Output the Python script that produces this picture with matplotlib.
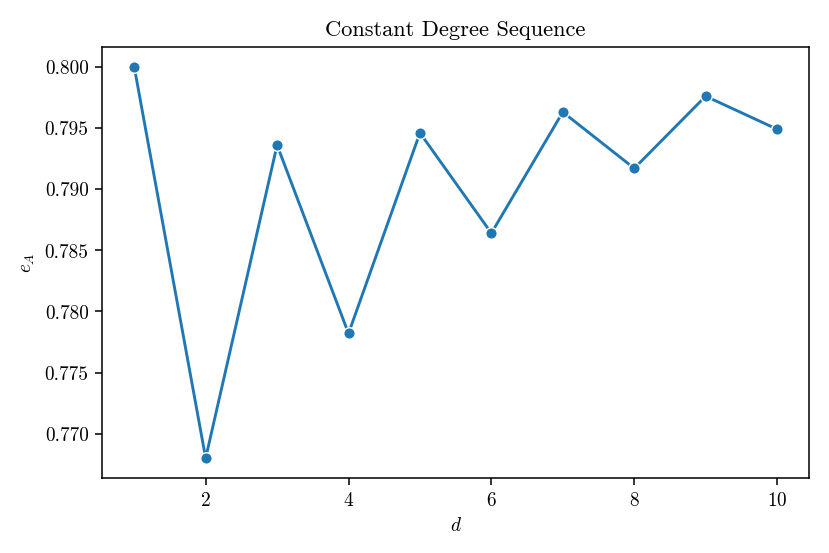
import matplotlib
matplotlib.use('Agg')
import matplotlib.pyplot as plt

plt.rcParams['font.family'] = 'serif'
plt.rcParams['font.serif'] = ['cmr10']
plt.rcParams['mathtext.fontset'] = 'cm'
plt.rcParams['axes.formatter.use_mathtext'] = True
plt.rcParams['axes.unicode_minus'] = False

# degree and measured e_A
d = [1, 2, 3, 4, 5, 6, 7, 8, 9, 10]
e_A = [0.8000, 0.7680, 0.7936, 0.7782, 0.7946, 0.7864, 0.7963, 0.7917, 0.7976, 0.7949]

fig, ax = plt.subplots(figsize=(6, 4), dpi=138.33)
fig.subplots_adjust(left=0.123, right=0.975, top=0.914, bottom=0.136)

ax.plot(d, e_A, color='#1f77b4', linewidth=1.5, marker='o', markersize=6,
        markeredgecolor='white', markeredgewidth=0.75)

ax.set_xticks([2, 4, 6, 8, 10])
ax.set_yticks([0.770, 0.775, 0.780, 0.785, 0.790, 0.795, 0.800])
ax.set_yticklabels(['%.3f' % v for v in ax.get_yticks()])
ax.set_xlabel(r'$d$')
ax.set_ylabel(r'$e_A$')
ax.set_title('Constant Degree Sequence', fontsize=11.7)

plt.savefig('out.png')
